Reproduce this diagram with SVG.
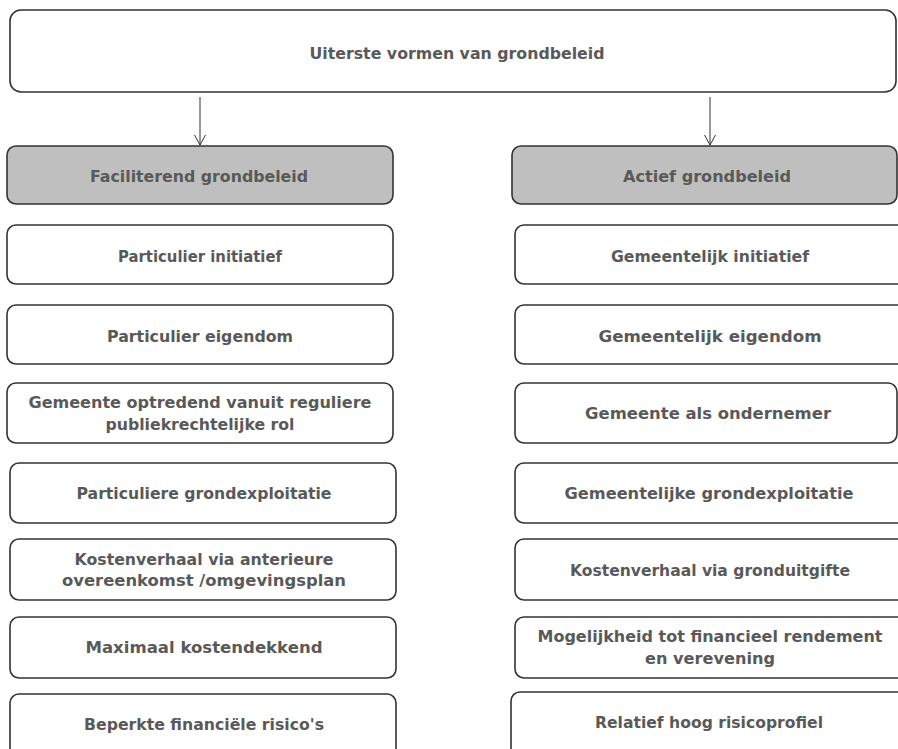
<svg xmlns="http://www.w3.org/2000/svg" width="898" height="749" viewBox="0 0 898 749">
<defs>
<style>
.b{fill:#fff;stroke:#333;stroke-width:1.6}
.g{fill:#bfbfbf;stroke:#333;stroke-width:1.6}
text{font-family:"DejaVu Sans","Liberation Sans",sans-serif;font-weight:bold;font-size:15px;fill:#595959;text-anchor:middle}
.c{stroke:#333;stroke-width:1;fill:none}
</style>
<marker id="ah" markerWidth="12" markerHeight="12" refX="11" refY="6" orient="auto" markerUnits="userSpaceOnUse" viewBox="0 0 12 12">
<path d="M1,0.5 L11,6 L1,11.5" fill="none" stroke="#333" stroke-width="1"/>
</marker>
</defs>
<rect width="898" height="749" fill="#fff"/>
<g id="top"><rect class="b" x="10" y="10" width="886" height="82" rx="11"/><text x="457" y="59" textLength="295" lengthAdjust="spacingAndGlyphs">Uiterste vormen van grondbeleid</text></g>
<g id="connectors">
<line class="c" x1="200" y1="97" x2="200" y2="145" marker-end="url(#ah)"/>
<line class="c" x1="710" y1="97" x2="710" y2="145" marker-end="url(#ah)"/>
</g>
<g id="fac"><rect class="g" x="7" y="146" width="386" height="58" rx="9"/><text x="199" y="182" textLength="218" lengthAdjust="spacingAndGlyphs">Faciliterend grondbeleid</text></g>
<g id="act"><rect class="g" x="512" y="146" width="385" height="58" rx="9"/><text x="707" y="182" textLength="168" lengthAdjust="spacingAndGlyphs">Actief grondbeleid</text></g>

<g id="l1"><rect class="b" x="7" y="225" width="386" height="59" rx="9"/><text x="200" y="262" textLength="164" lengthAdjust="spacingAndGlyphs">Particulier initiatief</text></g>
<g id="l2"><rect class="b" x="7" y="305" width="386" height="59" rx="9"/><text x="200" y="342" textLength="186" lengthAdjust="spacingAndGlyphs">Particulier eigendom</text></g>
<g id="l3"><rect class="b" x="7" y="383" width="386" height="60" rx="9"/><text x="200" y="408" textLength="343" lengthAdjust="spacingAndGlyphs">Gemeente optredend vanuit reguliere</text><text x="200" y="430" textLength="189" lengthAdjust="spacingAndGlyphs">publiekrechtelijke rol</text></g>
<g id="l4"><rect class="b" x="10" y="463" width="386" height="60" rx="9"/><text x="204" y="499" textLength="255" lengthAdjust="spacingAndGlyphs">Particuliere grondexploitatie</text></g>
<g id="l5"><rect class="b" x="10" y="539" width="386" height="61" rx="9"/><text x="204" y="565" textLength="259" lengthAdjust="spacingAndGlyphs">Kostenverhaal via anterieure</text><text x="204" y="586" textLength="284" lengthAdjust="spacingAndGlyphs">overeenkomst /omgevingsplan</text></g>
<g id="l6"><rect class="b" x="10" y="617" width="386" height="61" rx="9"/><text x="204" y="653" textLength="237" lengthAdjust="spacingAndGlyphs">Maximaal kostendekkend</text></g>
<g id="l7"><rect class="b" x="10" y="694" width="386" height="70" rx="9"/><text x="204" y="730" textLength="240" lengthAdjust="spacingAndGlyphs">Beperkte financiële risico's</text></g>

<g id="r1"><rect class="b" x="515" y="225" width="395" height="59" rx="9"/><text x="710" y="262" textLength="198" lengthAdjust="spacingAndGlyphs">Gemeentelijk initiatief</text></g>
<g id="r2"><rect class="b" x="515" y="305" width="395" height="59" rx="9"/><text x="710" y="342" textLength="223" lengthAdjust="spacingAndGlyphs">Gemeentelijk eigendom</text></g>
<g id="r3"><rect class="b" x="515" y="383" width="382" height="60" rx="9"/><text x="708" y="419" textLength="246" lengthAdjust="spacingAndGlyphs">Gemeente als ondernemer</text></g>
<g id="r4"><rect class="b" x="515" y="463" width="395" height="60" rx="9"/><text x="709" y="499" textLength="289" lengthAdjust="spacingAndGlyphs">Gemeentelijke grondexploitatie</text></g>
<g id="r5"><rect class="b" x="515" y="539" width="395" height="61" rx="9"/><text x="710" y="576" textLength="280" lengthAdjust="spacingAndGlyphs">Kostenverhaal via gronduitgifte</text></g>
<g id="r6"><rect class="b" x="515" y="617" width="395" height="61" rx="9"/><text x="710" y="642" textLength="345" lengthAdjust="spacingAndGlyphs">Mogelijkheid tot financieel rendement</text><text x="710" y="664" textLength="130" lengthAdjust="spacingAndGlyphs">en verevening</text></g>
<g id="r7"><rect class="b" x="511" y="692" width="399" height="70" rx="9"/><text x="709" y="728" textLength="228" lengthAdjust="spacingAndGlyphs">Relatief hoog risicoprofiel</text></g>
</svg>
